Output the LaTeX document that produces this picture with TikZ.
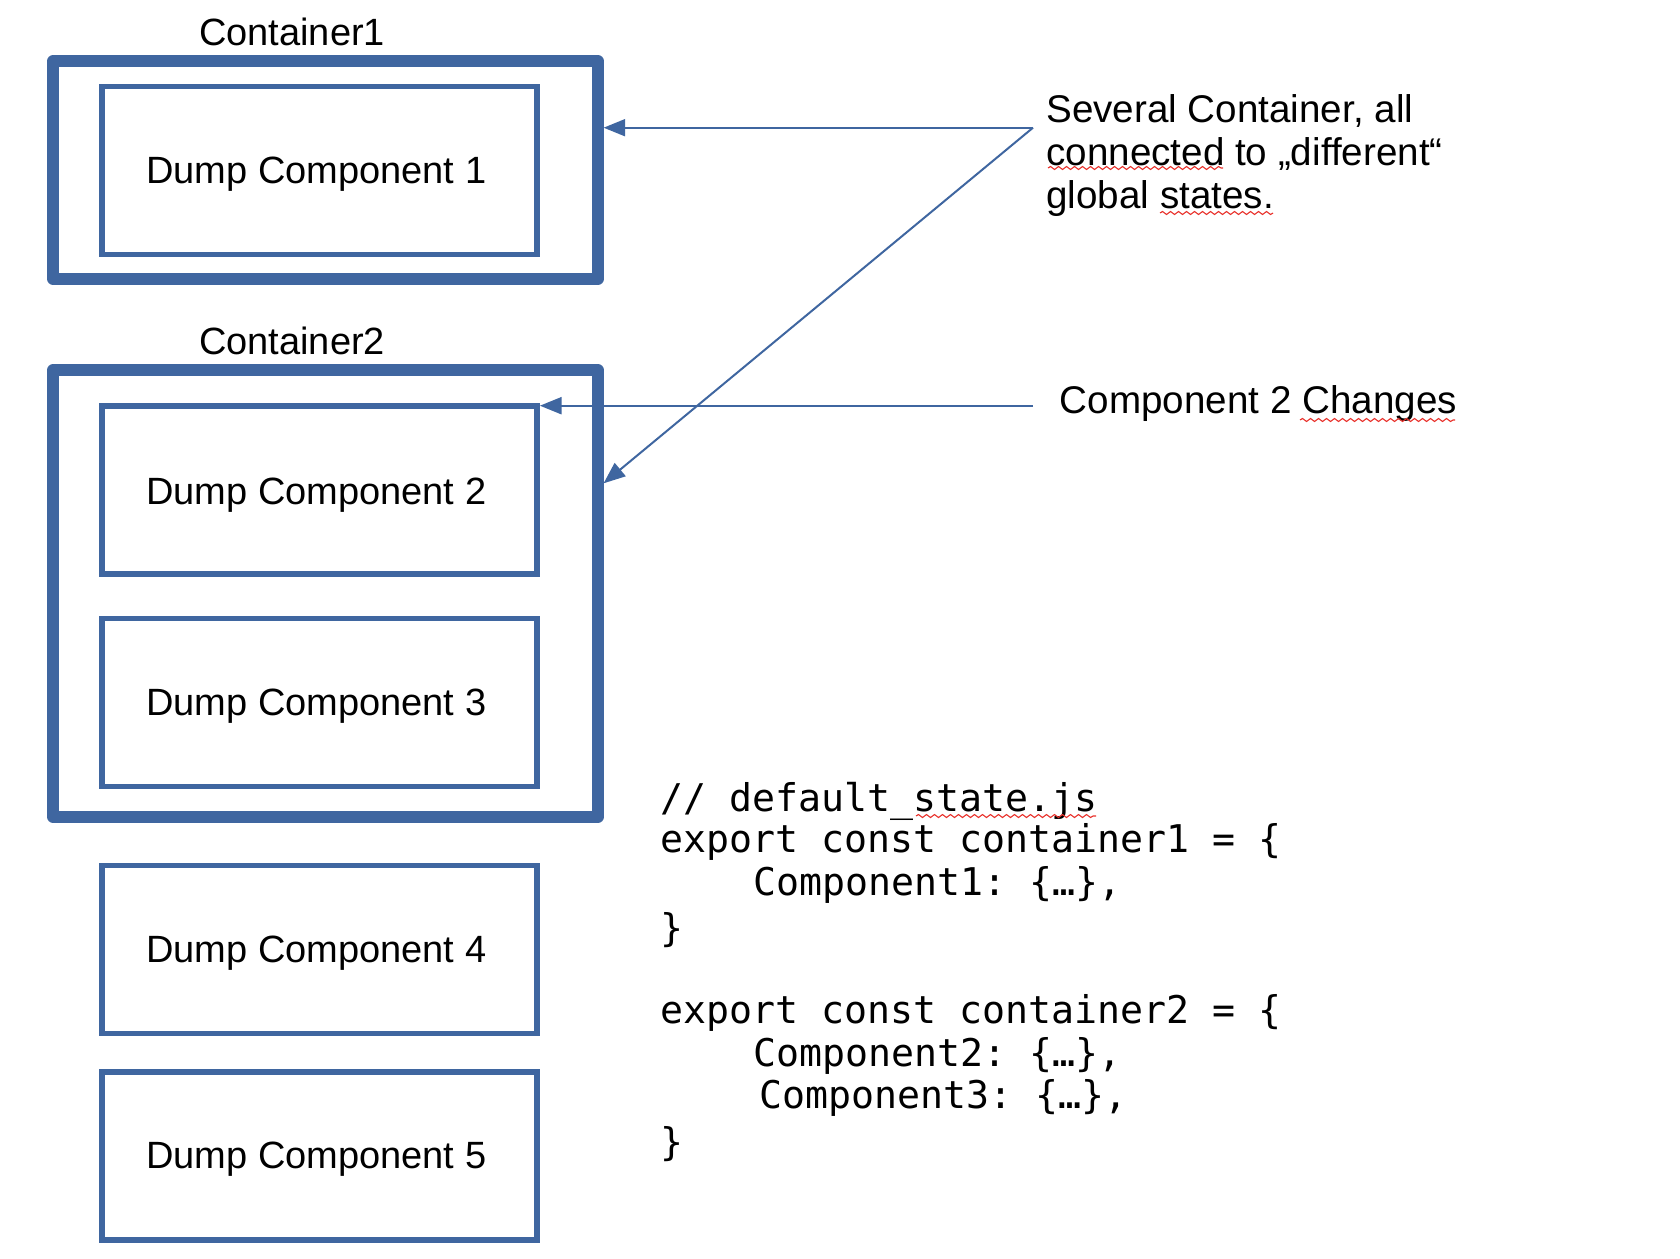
\documentclass[tikz,border=0pt]{standalone}
\usepackage{fontspec}
\setmainfont{Liberation Sans}
\setmonofont{DejaVu Sans Mono}
\usetikzlibrary{arrows.meta,decorations.pathmorphing}
\definecolor{boxblue}{HTML}{3F66A0}
\definecolor{spellred}{HTML}{E8302A}
\begin{document}
\begin{tikzpicture}[x=0.5pt,y=-0.5pt,
  cont/.style={draw=boxblue,line width=5.6pt,line join=round,minimum width=272.5pt,inner sep=0pt},
  comp/.style={draw=boxblue,line width=2.9pt,minimum width=217.5pt,minimum height=84pt,inner sep=0pt},
  lbl/.style={font=\fontsize{19}{22}\selectfont,inner sep=0pt},
  note/.style={font=\fontsize{19.3}{22}\selectfont,inner sep=0pt,anchor=base west},
  codeline/.style={font=\ttfamily\fontsize{19.1}{22}\selectfont,inner sep=0pt,anchor=base west},
  arr/.style={draw=boxblue,line width=1pt,-{Triangle[length=10.8pt,width=8.5pt]}},
  squig/.style={draw=spellred,line width=0.55pt,decorate,decoration={snake,amplitude=0.75pt,segment length=4pt}}]
\useasboundingbox (0,0) rectangle (1680,1258);

% containers
\node[cont,minimum height=109pt] (C1) at (325.5,170) {};
\node[cont,minimum height=223.5pt] (C2) at (325.5,593.5) {};
\node[lbl,anchor=base] (L1) at (292,45) {Container1};
\node[lbl,anchor=base] (L2) at (292,354.5) {Container2};

% components
\node[comp] (D1) at (319.5,170.5) {};
\node[comp] (D2) at (319.5,490) {};
\node[comp] (D3) at (319.5,702.5) {};
\node[comp] (D4) at (319.5,949.5) {};
\node[comp] (D5) at (319.5,1156) {};
\node[lbl] (T1) at ([shift={(-3.2,3.6)}]D1.center) {Dump Component 1};
\node[lbl] (T2) at ([shift={(-3.2,5.2)}]D2.center) {Dump Component 2};
\node[lbl] (T3) at ([shift={(-3.2,3.6)}]D3.center) {Dump Component 3};
\node[lbl] (T4) at ([shift={(-3.2,4.0)}]D4.center) {Dump Component 4};
\node[lbl] (T5) at ([shift={(-3.2,3.6)}]D5.center) {Dump Component 5};

% annotations
\node[note] (N1) at (1046,122) {Several Container, all};
\node[note] (N2) at (1046,165.2) {connected to „different“};
\node[note] (N3) at (1046,208.4) {global states.};
\node[note] (N4) at (1059.5,413.5) {Component 2 Changes};

% connectors
\coordinate (s1) at (1033,127.7);
\coordinate (y2) at (0,483.3);
\coordinate (s3) at (1033,405.7);
\draw[arr] (s1) -- (s1 -| C1.east);
\draw[arr] (s1) -- (C2.east |- y2);
\draw[arr] (s3) -- (s3 -| D2.east);

% code
\node[codeline] (K1) at (660,811) {// default\_state.js};
\node[codeline] (K2) at (660,852.5) {export const container1 = \{};
\node[codeline] (K3) at (753,895) {Component1: \{…\},};
\node[codeline] (K4) at (660,941.5) {\}};
\node[codeline] (K5) at (660,1023) {export const container2 = \{};
\node[codeline] (K6) at (753,1066) {Component2: \{…\},};
\node[codeline] (K7) at (759,1108) {Component3: \{…\},};
\node[codeline] (K8) at (660,1155) {\}};

% spell-check underlines
\draw[squig] (1048,168) -- (1223,168);
\draw[squig] (1160,213) -- (1273,213);
\draw[squig] (1300,420) -- (1455,420);
\draw[squig] (916,816) -- (1096,816);
\end{tikzpicture}
\end{document}
